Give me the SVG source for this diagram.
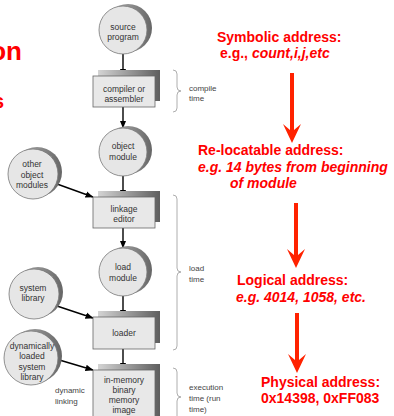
<svg xmlns="http://www.w3.org/2000/svg" width="394" height="416" viewBox="0 0 394 416">
<style>
.lbl{font-family:"Liberation Sans",Arial,sans-serif;font-size:8.5px;fill:#333;text-anchor:middle}
.note{font-family:"Liberation Sans",Arial,sans-serif;font-size:8px;fill:#444}
.red{font-family:"Liberation Sans",Arial,sans-serif;font-size:14px;font-weight:bold;fill:#FF0000}
.it{font-style:italic}
.circ{fill:#e6e6e6;stroke:#777;stroke-width:0.8}
.csh{fill:url(#cg)}
.box{fill:#e8e8e8;stroke:#666;stroke-width:0.8}
.bsh{fill:url(#bg)}
.con{stroke:#000;stroke-width:1.4;fill:none;marker-end:url(#ah)}
.brace{stroke:#999;stroke-width:0.8;fill:none}
.rarr{fill:#FF2200}
</style>
<defs>
<marker id="ah" markerUnits="userSpaceOnUse" markerWidth="8" markerHeight="8" viewBox="0 0 8 8" refX="7.5" refY="4" orient="auto">
<path d="M0,0.8 L8,4 L0,7.2 Z" fill="#000"/>
</marker>
<linearGradient id="bg" x1="0" y1="0" x2="1" y2="0">
<stop offset="0" stop-color="#d4d4d4"/>
<stop offset="1" stop-color="#5e5e5e"/>
</linearGradient>
<linearGradient id="cg" x1="0" y1="0" x2="1" y2="0">
<stop offset="0" stop-color="#bdbdbd"/>
<stop offset="1" stop-color="#666"/>
</linearGradient>
</defs>

<rect width="394" height="416" fill="#fff"/>

<!-- partial title fragments at left edge -->
<text x="22" y="60" text-anchor="end" style="font-family:'Liberation Sans',Arial,sans-serif;font-size:26px;font-weight:bold;fill:#FF0000">on</text>
<text x="4" y="108" text-anchor="end" style="font-family:'Liberation Sans',Arial,sans-serif;font-size:20px;font-weight:bold;fill:#FF0000">s</text>

<g id="connectors">
<line class="con" x1="123" y1="54" x2="123" y2="76"/>
<line class="con" x1="123" y1="107" x2="123" y2="128"/>
<line class="con" x1="123" y1="176" x2="123" y2="197"/>
<line class="con" x1="123" y1="228" x2="123" y2="248"/>
<line class="con" x1="123" y1="296" x2="123" y2="317"/>
<line class="con" x1="123" y1="349" x2="123" y2="370"/>
<line class="con" x1="57" y1="184" x2="93" y2="197"/>
<line class="con" x1="57" y1="306" x2="93" y2="318"/>
<line class="con" x1="56" y1="359" x2="93" y2="370"/>
</g>

<g id="source">
<circle class="csh" cx="128" cy="28" r="24"/>
<circle class="circ" cx="123" cy="30" r="24"/>
<text class="lbl" x="123" y="30">source</text>
<text class="lbl" x="123" y="40">program</text>
</g>

<g id="compiler">
<rect class="bsh" x="98" y="70" width="62" height="31"/>
<rect class="box" x="93" y="76" width="62" height="31"/>
<text class="lbl" x="124" y="92">compiler or</text>
<text class="lbl" x="124" y="102">assembler</text>
</g>

<g id="object">
<circle class="csh" cx="128" cy="150" r="24"/>
<circle class="circ" cx="123" cy="152" r="24"/>
<text class="lbl" x="123" y="149">object</text>
<text class="lbl" x="123" y="160">module</text>
</g>

<g id="other">
<circle class="csh" cx="37" cy="172" r="25"/>
<circle class="circ" cx="33" cy="174" r="25"/>
<text class="lbl" x="32" y="167">other</text>
<text class="lbl" x="32" y="178">object</text>
<text class="lbl" x="32" y="188">modules</text>
</g>

<g id="linkage">
<rect class="bsh" x="98" y="191" width="62" height="31"/>
<rect class="box" x="93" y="197" width="62" height="31"/>
<text class="lbl" x="124" y="212">linkage</text>
<text class="lbl" x="124" y="222">editor</text>
</g>

<g id="load">
<circle class="csh" cx="128" cy="270" r="24"/>
<circle class="circ" cx="123" cy="272" r="24"/>
<text class="lbl" x="123" y="270">load</text>
<text class="lbl" x="123" y="281">module</text>
</g>

<g id="syslib">
<circle class="csh" cx="38" cy="292" r="25"/>
<circle class="circ" cx="34" cy="294" r="25"/>
<text class="lbl" x="33" y="291">system</text>
<text class="lbl" x="33" y="301">library</text>
</g>

<g id="loader">
<rect class="bsh" x="98" y="311" width="62" height="32"/>
<rect class="box" x="93" y="317" width="62" height="32"/>
<text class="lbl" x="124" y="336">loader</text>
</g>

<g id="dynlib">
<circle class="csh" cx="35" cy="356" r="27"/>
<circle class="circ" cx="31" cy="358" r="27"/>
<text class="lbl" x="32" y="349">dynamically</text>
<text class="lbl" x="32" y="359">loaded</text>
<text class="lbl" x="32" y="370">system</text>
<text class="lbl" x="32" y="380">library</text>
</g>

<g id="inmemory">
<rect class="bsh" x="98" y="364" width="62" height="60"/>
<rect class="box" x="93" y="370" width="62" height="56"/>
<text class="lbl" x="124" y="383">in-memory</text>
<text class="lbl" x="124" y="393">binary</text>
<text class="lbl" x="124" y="403">memory</text>
<text class="lbl" x="124" y="413">image</text>
</g>

<g id="dynlink">
<text class="note" x="55" y="393">dynamic</text>
<text class="note" x="55" y="404">linking</text>
</g>

<g id="braces">
<path class="brace" d="M173,70 Q177,70 177,74 L177,87 Q177,91 181,91 Q177,91 177,95 L177,108 Q177,112 173,112"/>
<path class="brace" d="M173,195 Q177,195 177,199 L177,268 Q177,272 181,272 Q177,272 177,276 L177,346 Q177,350 173,350"/>
<path class="brace" d="M173,368 Q177,368 177,372 L177,393 Q177,397 181,397 Q177,397 177,401 L177,416"/>
<text class="note" x="189" y="91">compile</text>
<text class="note" x="189" y="101">time</text>
<text class="note" x="189" y="271">load</text>
<text class="note" x="189" y="282">time</text>
<text class="note" x="189" y="390">execution</text>
<text class="note" x="189" y="401">time  (run</text>
<text class="note" x="189" y="412">time)</text>
</g>

<g id="addresses">
<text class="red" x="217" y="42">Symbolic address:</text>
<text class="red" x="220" y="58">e.g., <tspan class="it">count,i,j,etc</tspan></text>
<text class="red" x="198" y="155">Re-locatable address:</text>
<text class="red it" x="198" y="172">e.g. 14 bytes from beginning</text>
<text class="red it" x="230" y="188">of module</text>
<text class="red" x="237" y="285">Logical address:</text>
<text class="red it" x="236" y="302">e.g. 4014, 1058, etc.</text>
<text class="red" x="261" y="387">Physical address:</text>
<text class="red" x="261" y="403">0x14398, 0xFF083</text>
</g>

<g id="red-arrows">
<path class="rarr" d="M290,73 L294,73 L294,130 L301,124 L292,143 L283,124 L290,130 Z"/>
<path class="rarr" d="M294,203 L298,203 L298,255 L305,249 L296,268 L287,249 L294,255 Z"/>
<path class="rarr" d="M295,313 L299,313 L299,360 L306,354 L297,373 L288,354 L295,360 Z"/>
</g>
</svg>
